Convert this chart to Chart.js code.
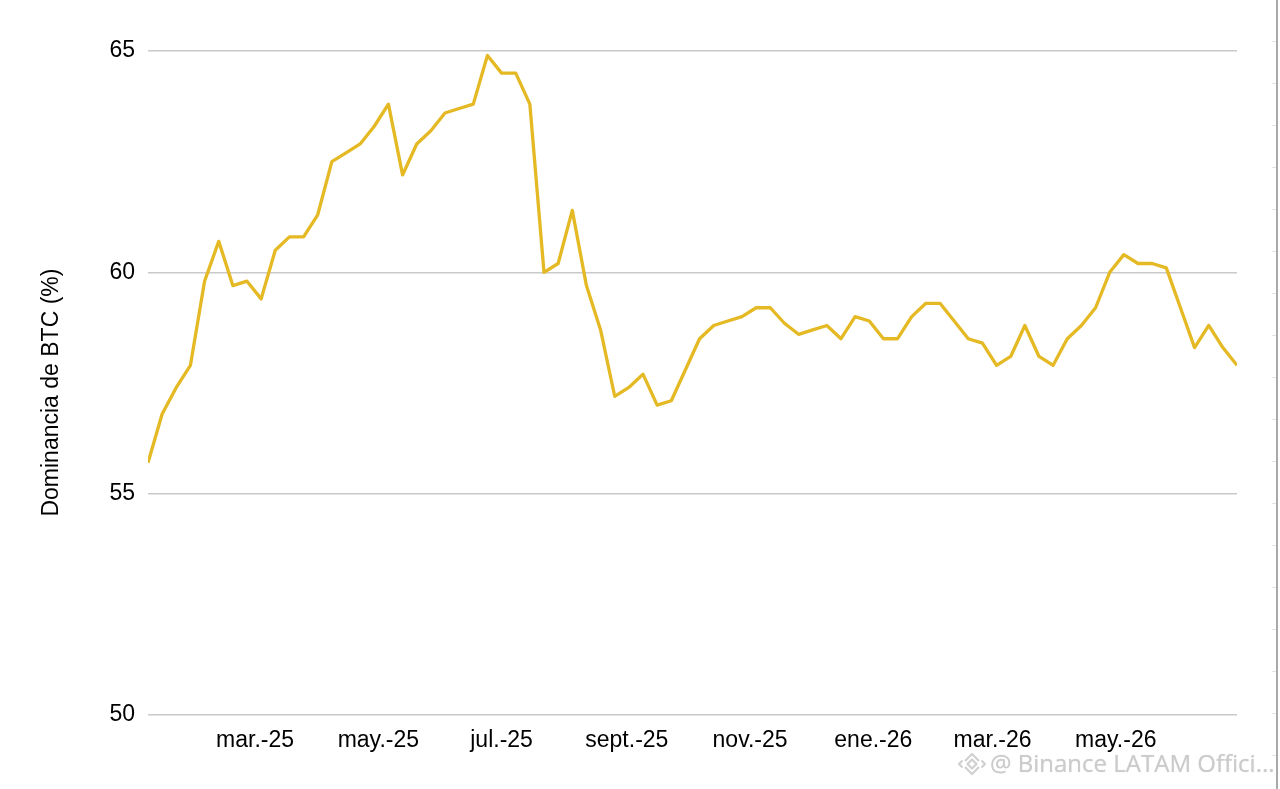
<!DOCTYPE html>
<html>
<head>
<meta charset="utf-8">
<script src="https://cdn.jsdelivr.net/npm/chart.js@4.4.1/dist/chart.umd.min.js"></script>
<style>
  html, body { margin: 0; padding: 0; background: #ffffff; }
  #wrap { position: relative; width: 1280px; height: 789px; overflow: hidden; }
  #c { position: absolute; left: 0; top: 0; }
  #edge { position: absolute; left: 1276px; top: 0; width: 2px; height: 789px; background: #a9a9a9; }
  #edgeTicks { position: absolute; left: 1272px; top: 0; width: 4px; height: 789px;
    background: repeating-linear-gradient(to bottom, transparent 0, transparent 41px, #e2e2e2 41px, #e2e2e2 42px); }
  #wm { position: absolute; left: 990px; top: 751px; line-height: 24px; font-family: "Open Sans", "Noto Sans", sans-serif;
    font-size: 24px; color: #cbcbcb; white-space: nowrap; text-shadow: 0 0 1px rgba(0,0,0,0.18); }
  #logo { position: absolute; left: 956px; top: 750px; }
</style>
</head>
<body>
<div id="wrap">
  <canvas id="c" width="1280" height="789"></canvas>
  <div id="edgeTicks"></div>
  <div id="edge"></div>
  <svg id="logo" width="32" height="28" viewBox="0 0 32 28">
    <g fill="none" stroke="#d0d0d0" stroke-width="2.2" stroke-linejoin="round">
      <path d="M16 9.5 L20.5 14 L16 18.5 L11.5 14 Z"/>
      <path d="M9 11 L16 4 L23 11"/>
      <path d="M9 17 L16 24 L23 17"/>
      <path d="M6.5 10.5 L3 14 L6.5 17.5"/>
      <path d="M25.5 10.5 L29 14 L25.5 17.5"/>
    </g>
  </svg>
  <div id="wm">@ Binance LATAM Offici...</div>
</div>
<script>
// ---- Data ----
const startDate = '2025-01-07';   // first weekly observation
const stepDays = 7;               // weekly series
const dominance = [
  55.7, 56.8, 57.4, 57.9, 59.8, 60.7, 59.7, 59.8, 59.4, 60.5,
  60.8, 60.8, 61.3, 62.5, 62.7, 62.9, 63.3, 63.8, 62.2, 62.9,
  63.2, 63.6, 63.7, 63.8, 64.9, 64.5, 64.5, 63.8, 60.0, 60.2,
  61.4, 59.7, 58.7, 57.2, 57.4, 57.7, 57.0, 57.1, 57.8, 58.5,
  58.8, 58.9, 59.0, 59.2, 59.2, 58.85, 58.6, 58.7, 58.8, 58.5,
  59.0, 58.9, 58.5, 58.5, 59.0, 59.3, 59.3, 58.9, 58.5, 58.4,
  57.9, 58.1, 58.8, 58.1, 57.9, 58.5, 58.8, 59.2, 60.0, 60.4,
  60.2, 60.2, 60.1, 59.2, 58.3, 58.8, 58.3, 57.9
];
const tickDates = ['2025-03-01','2025-05-01','2025-07-01','2025-09-01','2025-11-01','2026-01-01','2026-03-01','2026-05-01'];
const tickLabels = ['mar.-25','may.-25','jul.-25','sept.-25','nov.-25','ene.-26','mar.-26','may.-26'];
const yTicks = [50, 55, 60, 65];
const yTitle = 'Dominancia de BTC (%)';

// ---- Build ----
const dayOf = d => (Date.parse(d + 'T00:00:00Z') - Date.parse(startDate + 'T00:00:00Z')) / 864e5;
const points = dominance.map((v, i) => ({ x: i * stepDays, y: v }));
const tickDays = tickDates.map(dayOf);

const font = { family: '"Liberation Sans", Arial, sans-serif', size: 23 };

new Chart(document.getElementById('c'), {
  type: 'line',
  data: {
    datasets: [{
      data: points,
      borderColor: '#E4B923',
      borderWidth: 3.3,
      pointRadius: 0,
      tension: 0,
      fill: false,
      borderJoinStyle: 'round'
    }]
  },
  options: {
    responsive: false,
    animation: false,
    devicePixelRatio: 1,
    layout: { padding: { left: 38, right: 43, top: 51, bottom: 0 } },
    plugins: { legend: { display: false }, tooltip: { enabled: false } },
    scales: {
      x: {
        type: 'linear',
        min: 0,
        max: (dominance.length - 1) * stepDays,
        grid: { display: false, drawTicks: false },
        border: { display: false },
        afterBuildTicks: s => { s.ticks = tickDays.map(v => ({ value: v })); },
        afterFit: s => { s.height = 74; },
        ticks: {
          autoSkip: false,
          maxRotation: 0,
          padding: 12,
          color: '#000',
          font: font,
          callback: (v, i) => tickLabels[i]
        }
      },
      y: {
        min: 50,
        max: 65,
        afterBuildTicks: s => { s.ticks = yTicks.map(v => ({ value: v })); },
        afterFit: s => { s.width = 110; },
        grid: { color: '#c9c9c9', lineWidth: 1.5, drawTicks: false },
        border: { display: false },
        ticks: { padding: 13, color: '#000', font: font },
        title: {
          display: true,
          text: yTitle + '   ',
          color: '#000',
          font: { family: '"Liberation Sans", Arial, sans-serif', size: 23 },
          padding: 0
        }
      }
    }
  }
});
</script>
</body>
</html>
